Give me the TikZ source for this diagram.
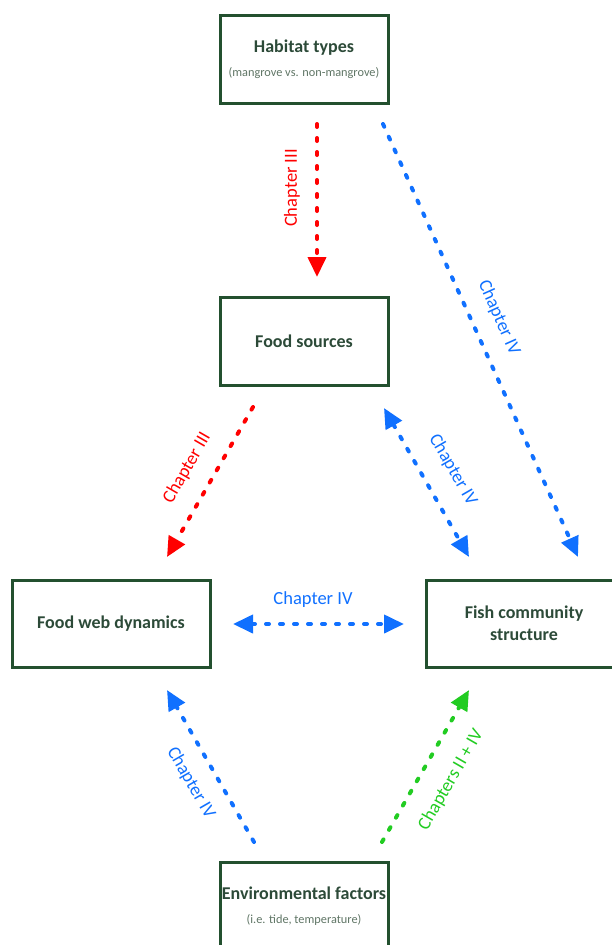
\documentclass[tikz,border=0pt]{standalone}
\usepackage{fontspec}
\setmainfont{Carlito}
\usetikzlibrary{arrows.meta}
\definecolor{boxgreen}{HTML}{23502F}
\definecolor{txtgreen}{HTML}{2C4A38}
\definecolor{subgreen}{HTML}{5F7565}
\definecolor{cred}{HTML}{FF0000}
\definecolor{cblue}{HTML}{1070FF}
\definecolor{cgreen}{HTML}{22CC22}
\newcommand{\titlefont}{\fontsize{18}{22}\selectfont\bfseries}
\newcommand{\subfont}{\fontsize{12.3}{15}\selectfont}
\tikzset{
  boxnode/.style={draw=boxgreen, line width=3pt, minimum width=168pt, minimum height=88pt, inner sep=0pt, align=center, text=txtgreen, font=\titlefont},
  conn/.style={line width=4pt, line cap=round, dash pattern=on 3pt off 11pt, -{Triangle[length=20pt,width=18pt]}},
  conn2/.style={line width=4pt, line cap=round, dash pattern=on 3pt off 11pt, {Triangle[length=20pt,width=18pt]}-{Triangle[length=20pt,width=18pt]}},
  lab/.style={font=\fontsize{18.5}{22}\selectfont, inner sep=0pt}
}
\begin{document}
\begin{tikzpicture}[x=1pt,y=-1pt]
\useasboundingbox (0,0) rectangle (612,945);
% boxes
\node[boxnode] (hab) at (304,59) {Habitat types\\[2pt]{\subfont\mdseries\color{subgreen}(mangrove vs. non-mangrove)}};
\node[boxnode] (food) at (304,341.5) {Food sources};
\node[boxnode, minimum width=198pt, minimum height=87pt] (web) at (111,623.5) {Food web dynamics};
\node[boxnode, minimum width=196pt, minimum height=87pt] (fish) at (524,623.5) {Fish community\\structure};
\node[boxnode] (env) at (304,906) {Environmental factors\\[2pt]{\subfont\mdseries\color{subgreen}(i.e. tide, temperature)}};
% connector ends
\coordinate (r1s) at (317,124); \coordinate (r1e) at (317,277);
\coordinate (b1s) at (383,124); \coordinate (b1e) at (578,557);
\coordinate (b2s) at (384,408); \coordinate (b2e) at (469,557);
\coordinate (r2s) at (253,407); \coordinate (r2e) at (167,557);
\coordinate (hs) at (233,624); \coordinate (he) at (404,624);
\coordinate (b3s) at (254,842); \coordinate (b3e) at (167,690);
\coordinate (g1s) at (382,842); \coordinate (g1e) at (469,690);
% connectors
\draw[conn, cred] (r1s) -- (r1e);
\draw[conn, cblue] (b1s) -- (b1e);
\draw[conn2, cblue] (b2s) -- (b2e);
\draw[conn, cred] (r2s) -- (r2e);
\draw[conn2, cblue] (hs) -- (he);
\draw[conn, cblue] (b3s) -- (b3e);
\draw[conn, cgreen] (g1s) -- (g1e);
% labels
\node[lab, text=cred, rotate=90] (l1) at (292,188) {Chapter III};
\node[lab, text=cblue, rotate=-65.8] (l2) at (499,318) {Chapter IV};
\node[lab, text=cblue, rotate=-60] (l3) at (453,470) {Chapter IV};
\node[lab, text=cred, rotate=60] (l4) at (187,468) {Chapter III};
\node[lab, text=cblue] (l5) at (313,600) {Chapter IV};
\node[lab, text=cblue, rotate=-60] (l6) at (191,783) {Chapter IV};
\node[lab, text=cgreen, rotate=60] (l7) at (451,780) {Chapters II + IV};
\end{tikzpicture}
\end{document}
